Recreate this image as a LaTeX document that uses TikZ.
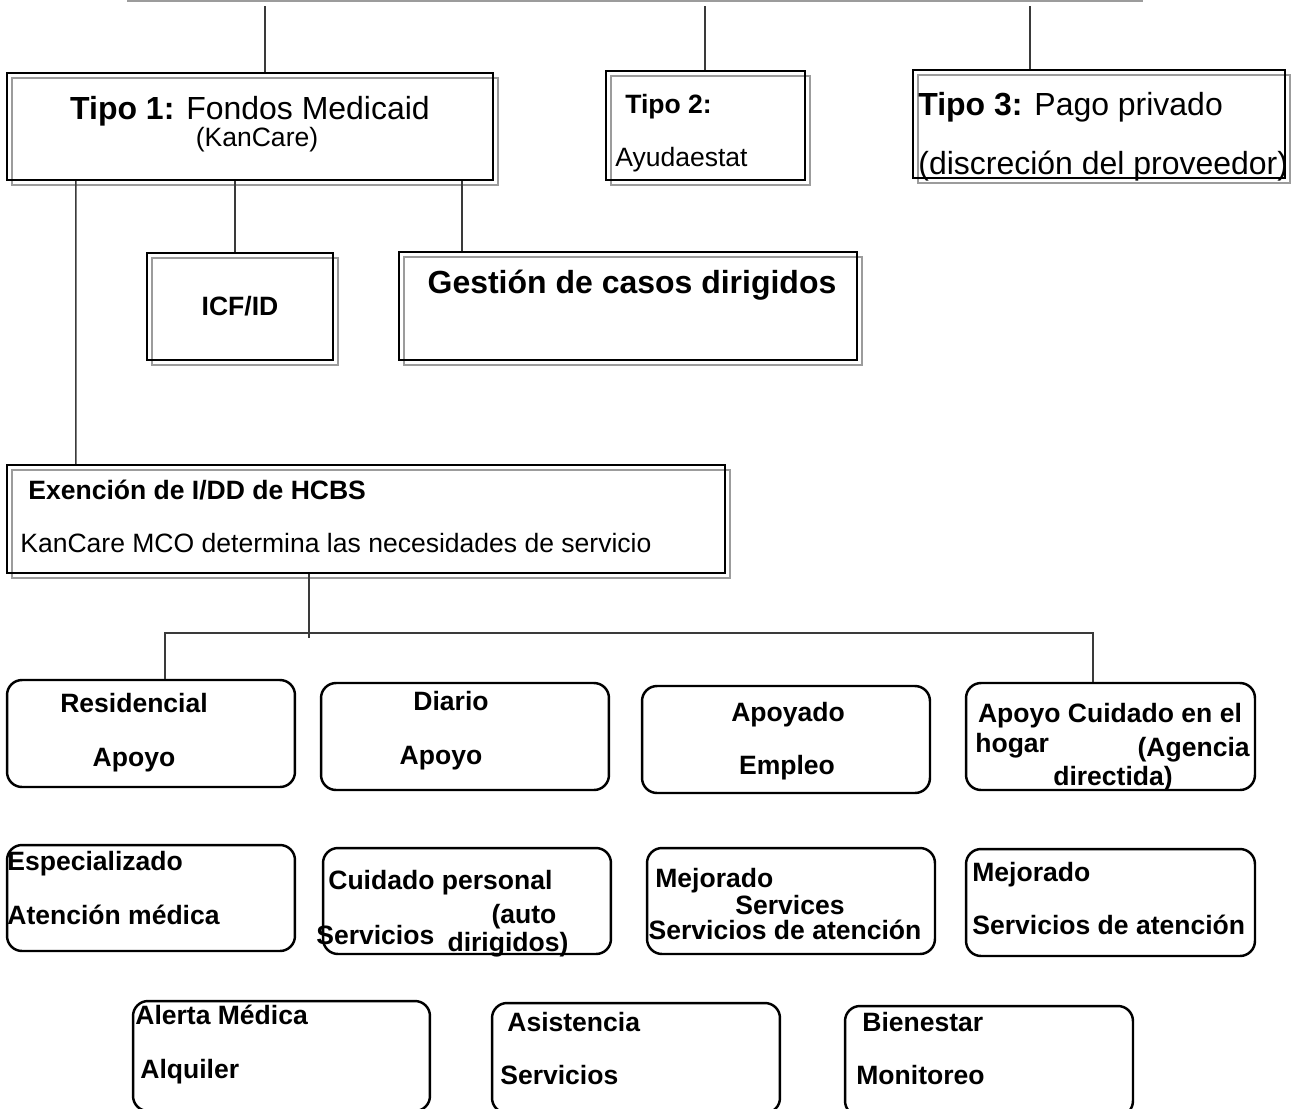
\documentclass[tikz,border=0pt]{standalone}
\usepackage{fontspec}
\setmainfont{Liberation Sans}
\usetikzlibrary{positioning, calc}
\newcommand{\medio}{\fontsize{15.1}{18}\selectfont}
\newcommand{\grande}{\fontsize{18.2}{22}\selectfont}
\definecolor{barragris}{HTML}{9C9C9C}
\definecolor{lineagris}{HTML}{3A3A3A}

\begin{document}
\begin{tikzpicture}[x=0.02cm, y=-0.02cm,
	caja/.style={draw, line width=1.4pt, inner sep=0pt},
	sombra/.style={preaction={draw=barragris, line width=1.2pt, transform canvas={shift={(0.1cm,-0.1cm)}}}},
	redonda/.style={caja, rounded corners=3mm},
	rama/.style={draw=lineagris, line width=0.8pt},
	barra/.style={draw=barragris, line width=1.6pt},
	txt/.style={inner sep=0pt, font=\medio\bfseries}]
		\useasboundingbox (0,0) rectangle (1292,1109);
		\clip (0,0) rectangle (1292,1109);
		
		% Tipos de fondos
		\node[caja, sombra, minimum width=9.72cm, minimum height=2.14cm] (tipo1) at (250,126.5) {};
		\node[caja, sombra, minimum width=3.98cm, minimum height=2.18cm] (tipo2) at (705.5,125.5) {};
		\node[caja, sombra, minimum width=7.44cm, minimum height=2.16cm] (tipo3) at (1099,124) {};
		\node[caja, sombra, minimum width=3.72cm, minimum height=2.14cm] (icf) at (240,306.5) {};
		\node[caja, sombra, minimum width=9.16cm, minimum height=2.16cm] (gestion) at (628,306) {};
		\node[caja, sombra, minimum width=14.36cm, minimum height=2.16cm] (exencion) at (366,519) {};
		
		% Servicios
		\node[redonda, minimum width=5.76cm, minimum height=2.14cm] (resid) at (151,733.5) {};
		\node[redonda, minimum width=5.76cm, minimum height=2.14cm] (diario) at (465,736.5) {};
		\node[redonda, minimum width=5.76cm, minimum height=2.14cm] (empleo) at (786,739.5) {};
		\node[redonda, minimum width=5.78cm, minimum height=2.14cm] (hogar) at (1110.5,736.5) {};
		\node[redonda, minimum width=5.76cm, minimum height=2.12cm] (especial) at (151,898) {};
		\node[redonda, minimum width=5.76cm, minimum height=2.12cm] (cuidado) at (467,901) {};
		\node[redonda, minimum width=5.76cm, minimum height=2.12cm] (mejor1) at (791,901) {};
		\node[redonda, minimum width=5.78cm, minimum height=2.14cm] (mejor2) at (1110.5,902.5) {};
		\node[redonda, minimum width=5.94cm, minimum height=2.2cm] (alerta) at (281.5,1056) {};
		\node[redonda, minimum width=5.76cm, minimum height=2.2cm] (asist) at (636,1058) {};
		\node[redonda, minimum width=5.76cm, minimum height=2.2cm] (bienestar) at (989,1061) {};
		
		% barra superior
		\coordinate (barI) at (127,1);
		\coordinate (barD) at (1143,1);
		\draw[barra] (barI) -- (barD);
		\coordinate (k1) at (265,6);
		\coordinate (k2) at (705,6);
		\coordinate (k3) at (1030,6);
		\draw[rama] (k1) -- (k1 |- tipo1.north);
		\draw[rama] (k2) -- (k2 |- tipo2.north);
		\draw[rama] (k3) -- (k3 |- tipo3.north);
		
		% ramas de Tipo 1
		\draw[rama] ($(tipo1.south west)+(70,0)$) -- ($(exencion.north west)+(70,0)$);
		\draw[rama] (icf.north) ++(-5,0) coordinate (ci) -- (ci |- tipo1.south);
		\draw[rama] (gestion.north west) ++(64,0) coordinate (cg) -- (cg |- tipo1.south);
		
		% ramas de la exencion
		\draw[rama] (exencion.south west) ++(303,0) coordinate (ce) -- ++(0,64);
		\coordinate (hI) at (165,633);
		\coordinate (hD) at (1093,633);
		\draw[rama] (resid.north -| hI) -- (hI) -- (hD) -- (hogar.north -| hD);
		
		% textos
		\node[txt, font=\grande, anchor=base] (tipo1t) at (250,119) {\textbf{Tipo 1:} Fondos Medicaid};
		\node[txt, font=\medio, anchor=base] (kancare) at (257,146) {(KanCare)};
		\node[txt, anchor=base west] (tipo2t) at (625,113) {Tipo 2:};
		\node[txt, font=\medio, anchor=base west] (ayuda) at (615,166) {Ayudaestat};
		\node[txt, font=\grande, anchor=base west] (tipo3t) at (918,115) {\textbf{Tipo 3:} Pago privado};
		\node[txt, font=\grande, anchor=base west] (discre) at (918,174) {(discreción del proveedor)};
		\node[txt, anchor=base] (icft) at (240,315) {ICF/ID};
		\node[txt, font=\grande\bfseries, anchor=base] (gestiont) at (632,293) {Gestión de casos dirigidos};
		\node[txt, anchor=base west] (exent) at (28,499) {Exención de I/DD de HCBS};
		\node[txt, font=\medio, anchor=base west] (mco) at (20,552) {KanCare MCO determina las necesidades de servicio};
		
		\node[txt, anchor=base] (residt) at (134,712) {Residencial};
		\node[txt, anchor=base] (resapoyo) at (134,766) {Apoyo};
		\node[txt, anchor=base] (diariot) at (451,710) {Diario};
		\node[txt, anchor=base] (diaapoyo) at (441,764) {Apoyo};
		\node[txt, anchor=base] (apoyado) at (788,721) {Apoyado};
		\node[txt, anchor=base] (empleot) at (787,774) {Empleo};
		\node[txt, anchor=base] (hogar1) at (1110,722) {Apoyo Cuidado en el};
		\node[txt, anchor=base west] (hogar2) at (975,752) {hogar};
		\node[txt, anchor=base east] (agencia) at (1250,756) {(Agencia};
		\node[txt, anchor=base] (directida) at (1113,785) {directida)};
		
		\node[txt, anchor=base west] (especialt) at (7,870) {Especializado};
		\node[txt, anchor=base west] (atencion) at (7,924) {Atención médica};
		\node[txt, anchor=base west] (cuidadot) at (328,889) {Cuidado personal};
		\node[txt, anchor=base] (auto) at (524,923) {(auto};
		\node[txt, anchor=base west] (cuidserv) at (316,944) {Servicios};
		\node[txt, anchor=base] (dirigidos) at (508,951) {dirigidos)};
		\node[txt, anchor=base west] (mejor1t) at (655,887) {Mejorado};
		\node[txt, anchor=base] (services) at (790,914) {Services};
		\node[txt, anchor=base] (mejor1s) at (785,939) {Servicios de atención};
		\node[txt, anchor=base west] (mejor2t) at (972,881) {Mejorado};
		\node[txt, anchor=base west] (mejor2s) at (972,934) {Servicios de atención};
		
		\node[txt, anchor=base west] (alertat) at (135,1024) {Alerta Médica};
		\node[txt, anchor=base west] (alquiler) at (140,1078) {Alquiler};
		\node[txt, anchor=base west] (asistt) at (507,1031) {Asistencia};
		\node[txt, anchor=base west] (asistserv) at (500,1084) {Servicios};
		\node[txt, anchor=base west] (bienestart) at (862,1031) {Bienestar};
		\node[txt, anchor=base west] (monitoreo) at (856,1084) {Monitoreo};
\end{tikzpicture}
\end{document}
